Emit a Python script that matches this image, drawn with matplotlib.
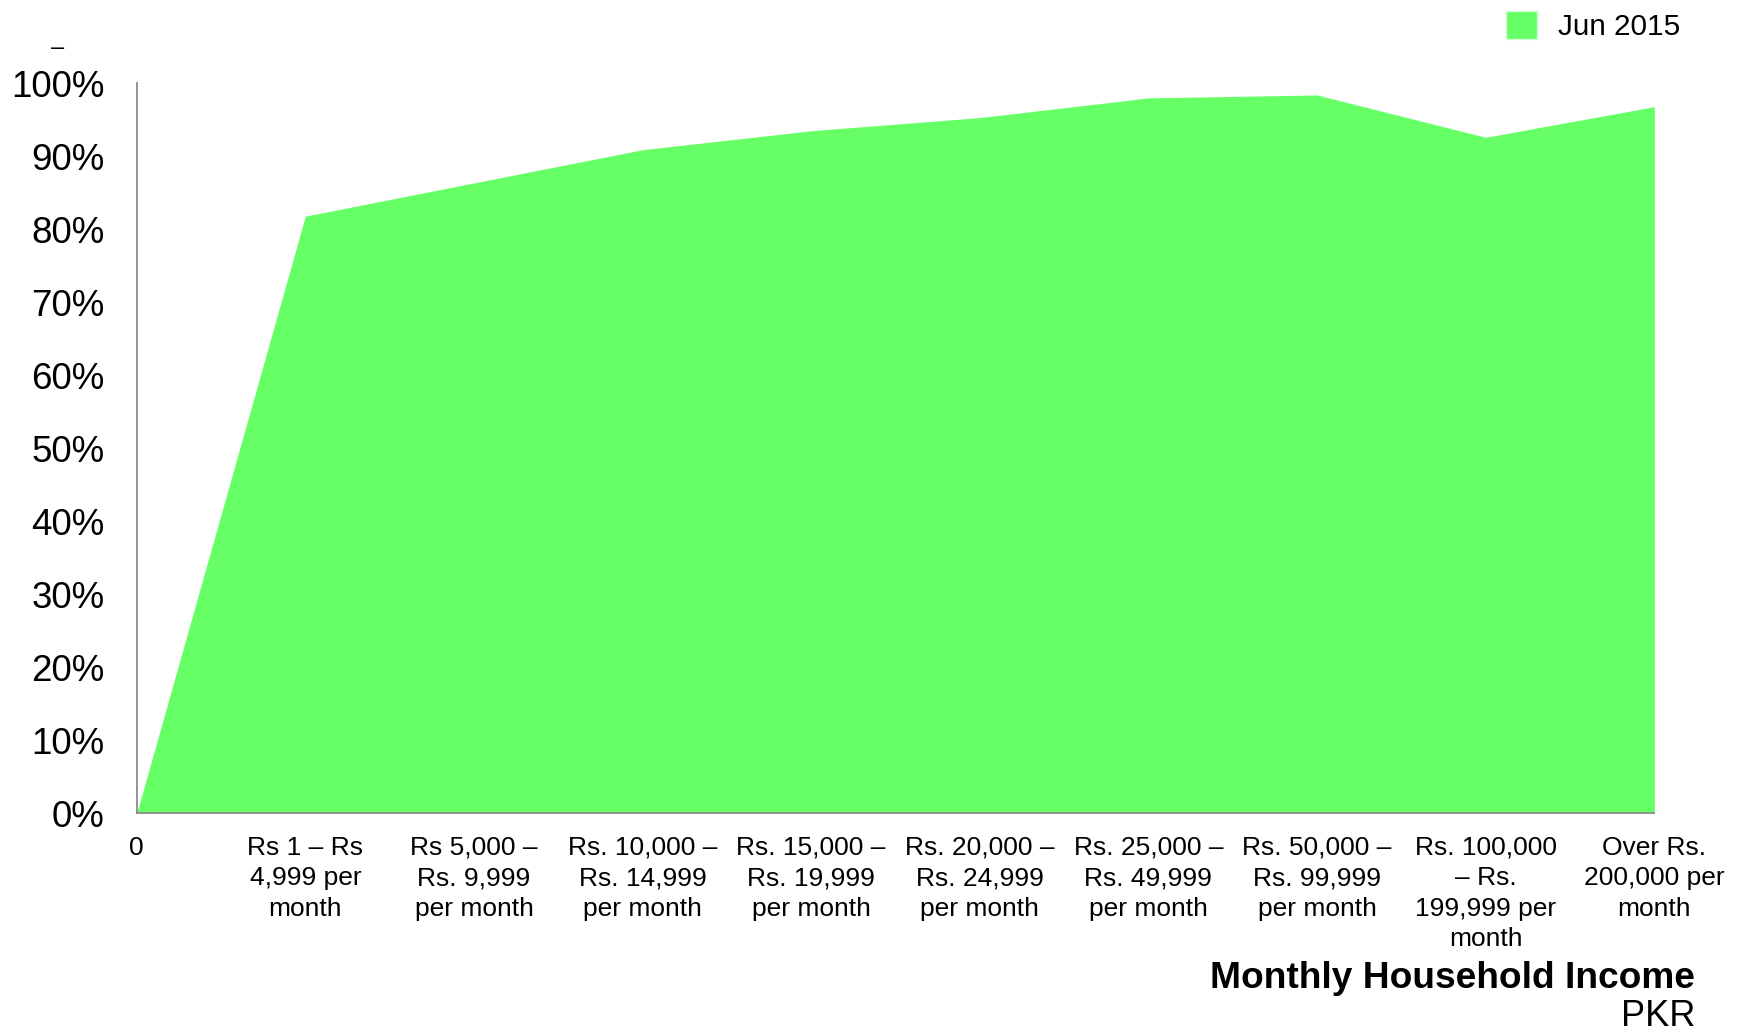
import matplotlib
matplotlib.use("Agg")
import matplotlib.pyplot as plt
from matplotlib.patches import Patch

plt.rcParams['font.family'] = ['Liberation Sans', 'DejaVu Sans']

categories = [
    "0",
    "Rs 1 – Rs\n4,999 per\nmonth",
    "Rs 5,000 –\nRs. 9,999\nper month",
    "Rs. 10,000 –\nRs. 14,999\nper month",
    "Rs. 15,000 –\nRs. 19,999\nper month",
    "Rs. 20,000 –\nRs. 24,999\nper month",
    "Rs. 25,000 –\nRs. 49,999\nper month",
    "Rs. 50,000 –\nRs. 99,999\nper month",
    "Rs. 100,000\n– Rs.\n199,999 per\nmonth",
    "Over Rs.\n200,000 per\nmonth",
]
values_jun2015 = [0.0, 81.8, 86.35, 90.9, 93.5, 95.3, 98.0, 98.4, 92.6, 96.8]
ytick_values = [0, 10, 20, 30, 40, 50, 60, 70, 80, 90, 100]
ytick_labels = [f"{v}%" for v in ytick_values]
series_name = "Jun 2015"

W, H = 1742, 1036
fig = plt.figure(figsize=(W / 100, H / 100), dpi=100)
ax = fig.add_axes([136.7 / W, 1 - 813.3 / H, (1654.3 - 136.7) / W, (813.3 - 83.3) / H])

green = "#66ff66"
x = list(range(len(categories)))
ax.fill_between(x, 0, values_jun2015, color=green, linewidth=0, zorder=1)

ax.set_xlim(0, len(categories) - 1)
ax.set_ylim(0, 100)
ax.set_xticks(x)
ax.set_xticklabels(categories, fontsize=19, linespacing=1.35, va='top')
ax.set_yticks(ytick_values)
ax.set_yticklabels(ytick_labels, fontsize=26.5)
ax.tick_params(axis='x', length=0, pad=16)
ax.tick_params(axis='y', length=0, pad=23)

for s in ['top', 'right']:
    ax.spines[s].set_visible(False)
for s in ['left', 'bottom']:
    ax.spines[s].set_color('#8c8c8c')
    ax.spines[s].set_linewidth(1.3)
    ax.spines[s].set_zorder(3)

fig.text(57.5 / W, 1 - 48 / H, "–", fontsize=17, ha='center', va='center')

leg = fig.legend(handles=[Patch(facecolor=green, edgecolor='#ccffcc', linewidth=1.0, label=series_name)],
                 loc='center right', bbox_to_anchor=(1680 / W, 1 - 26 / H),
                 frameon=False, fontsize=21.4, handlelength=1.05, handleheight=1.05,
                 handletextpad=0.7, borderpad=0, borderaxespad=0)

fig.text(1695 / W, 1 - 979 / H, "Monthly Household Income", fontsize=26.7, fontweight='bold',
         ha='right', va='center')
fig.text(1695 / W, 1 - 1017 / H, "PKR", fontsize=26, ha='right', va='center')

fig.savefig("out.png", dpi=100)
